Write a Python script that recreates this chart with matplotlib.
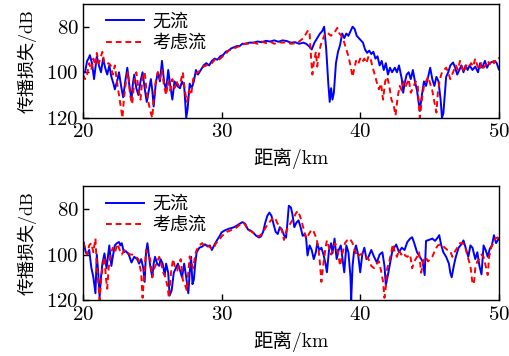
import matplotlib
matplotlib.use("Agg")
import matplotlib.pyplot as plt

plt.rcParams['font.family'] = ['cmr10', 'Noto Sans CJK SC', 'DejaVu Sans']
plt.rcParams['axes.formatter.use_mathtext'] = True
plt.rcParams['font.size'] = 10

# top panel: range (km) / transmission loss (dB)
top_blue_x = [20.0, 20.15, 20.3, 20.4, 20.5, 20.65, 20.8, 21.0, 21.15, 21.3, 21.45, 21.6, 21.75, 21.9, 22.05,
              22.2, 22.3, 22.5, 22.6, 22.75, 22.9, 23.05, 23.2, 23.35, 23.5, 23.6, 23.7, 23.85, 24.0, 24.15,
              24.3, 24.45, 24.6, 24.75, 24.9, 25.0, 25.1, 25.25, 25.4, 25.55, 25.7, 25.85, 26.0, 26.15, 26.3,
              26.45, 26.6, 26.8, 27.0, 27.15, 27.3, 27.45, 27.55, 27.7, 27.85, 28.0, 28.15, 28.3, 28.5, 28.7,
              28.9, 29.1, 29.3, 29.5, 29.7, 29.9, 30.1, 30.3, 30.5, 30.7, 30.9, 31.1, 31.3, 31.5, 31.7,
              32.0, 32.3, 32.6, 32.9, 33.2, 33.5, 33.8, 34.1, 34.4, 34.7, 35.0, 35.3, 35.6, 35.9, 36.1,
              36.3, 36.5, 36.7, 36.9, 37.1, 37.25, 37.4, 37.55, 37.7, 37.8, 37.9, 38.0, 38.1, 38.25, 38.4,
              38.55, 38.7, 38.85, 39.0, 39.15, 39.3, 39.45, 39.6, 39.75, 39.9, 40.05, 40.2, 40.35, 40.5, 40.65,
              40.8, 40.95, 41.1, 41.25, 41.4, 41.55, 41.7, 41.85, 42.0, 42.15, 42.3, 42.5, 42.65, 42.8, 43.0,
              43.1, 43.2, 43.35, 43.5, 43.65, 43.8, 43.95, 44.1, 44.3, 44.45, 44.6, 44.75, 44.9, 45.05, 45.2,
              45.35, 45.5, 45.65, 45.8, 45.9, 46.0, 46.2, 46.35, 46.5, 46.7, 46.85, 47.0, 47.15, 47.3, 47.45,
              47.6, 47.75, 47.9, 48.1, 48.3, 48.5, 48.65, 48.8, 49.0, 49.15, 49.3, 49.5, 49.7, 49.85, 50.0]
top_blue_y = [100, 100, 95, 94, 92.5, 96, 103, 93, 97, 100, 94, 98, 101, 97, 102,
              105, 107.5, 103, 100, 106, 111, 104, 98, 106, 112, 105, 101, 107, 110, 104,
              100, 107, 113, 108, 103, 108, 115, 105, 100, 104, 95, 104, 108, 99, 106,
              112, 104, 106, 107, 104, 106, 120, 116, 105, 107, 104, 99, 101, 99, 97,
              96, 97, 95, 94, 94.5, 93, 92.5, 91, 90.5, 89.5, 89, 88.5, 88.5, 87.5, 87.5,
              87, 87, 86.5, 86.8, 86.2, 86.5, 86, 86.6, 86, 86.3, 87, 86.8, 87.5, 87, 87.5,
              88.5, 90, 87, 85, 83, 82, 80, 90, 105, 113, 107, 112, 109, 96, 91,
              88, 83, 85, 83, 84, 82, 80, 81, 84, 85, 86, 87, 90, 91.5, 90.5,
              92, 91, 94, 93, 97, 95, 99, 96, 101, 98, 100, 98, 100, 97, 103,
              109, 105, 101, 100, 103, 99, 104, 108, 117, 110, 104, 106, 102, 98, 103,
              106, 102, 104, 112, 120, 118, 102, 100, 97, 95.7, 98, 101, 99, 97, 100,
              97, 99, 97, 99, 97.5, 100, 96, 98, 95, 98, 96, 95.5, 95, 96, 98.7]

top_red_x = [20.0, 20.15, 20.3, 20.45, 20.6, 20.75, 20.9, 21.0, 21.15, 21.3, 21.4, 21.55, 21.7, 21.85, 22.0,
             22.15, 22.3, 22.45, 22.6, 22.75, 22.85, 22.95, 23.1, 23.25, 23.4, 23.55, 23.7, 23.85, 24.0, 24.15,
             24.3, 24.45, 24.6, 24.75, 24.9, 25.0, 25.1, 25.25, 25.4, 25.55, 25.7, 25.85, 26.0, 26.15, 26.3,
             26.45, 26.6, 26.75, 26.9, 27.05, 27.2, 27.35, 27.5, 27.65, 27.8, 27.95, 28.1, 28.3, 28.5, 28.7,
             28.9, 29.1, 29.3, 29.5, 29.7, 29.9, 30.1, 30.3, 30.5, 30.7, 30.9, 31.1, 31.3, 31.5, 31.7,
             32.0, 32.3, 32.6, 32.9, 33.2, 33.5, 33.8, 34.1, 34.4, 34.7, 35.0, 35.3, 35.5, 35.7, 35.9,
             36.1, 36.25, 36.35, 36.45, 36.55, 36.65, 36.8, 36.9, 37.0, 37.15, 37.3, 37.5, 37.7, 37.9, 38.05,
             38.2, 38.35, 38.5, 38.65, 38.8, 39.0, 39.15, 39.3, 39.45, 39.55, 39.7, 39.85, 40.0, 40.15, 40.3,
             40.45, 40.6, 40.75, 40.9, 41.05, 41.2, 41.35, 41.5, 41.65, 41.8, 41.95, 42.1, 42.25, 42.4, 42.55,
             42.7, 42.85, 43.0, 43.15, 43.3, 43.5, 43.65, 43.8, 44.0, 44.15, 44.3, 44.45, 44.6, 44.75, 44.9,
             45.05, 45.2, 45.35, 45.5, 45.6, 45.75, 45.9, 46.05, 46.2, 46.35, 46.5, 46.7, 46.9, 47.05, 47.2,
             47.35, 47.5, 47.65, 47.8, 48.0, 48.15, 48.3, 48.45, 48.6, 48.75, 48.9, 49.05, 49.2, 49.35, 49.5,
             49.65, 49.8, 50.0]
top_red_y = [101, 103, 101, 96, 99, 94, 97, 91.5, 96, 93, 91, 96, 96.5, 96, 97,
             101, 97, 104, 110, 116, 120, 112, 104, 100, 110, 114, 104, 100, 107, 112,
             102, 100, 109, 114, 118, 120, 112, 104, 100, 103, 99, 106, 110, 104, 108,
             103, 107, 104, 106, 104, 100, 108, 113, 108, 110, 103, 101, 100, 99, 97.5,
             97, 96.5, 96, 94.5, 95, 94, 93, 92, 90.5, 90, 89.5, 89, 88.5, 88, 87.5,
             87.5, 87, 87.5, 86.5, 87.2, 86.5, 87.5, 86.8, 87, 86.8, 87.5, 87.3, 87, 86, 85,
             83, 81.5, 83, 93, 101, 96, 91, 97.5, 93, 88, 85.6, 82.6, 83, 84, 82.5,
             82, 80.5, 83, 84, 86, 90, 93, 97, 102, 99, 95, 96.5, 94, 95.5, 94,
             96, 93, 94, 98, 101, 104.5, 107.5, 105, 112, 104, 102, 106, 112, 114, 119,
             111, 106, 108, 104, 106, 103, 109, 107, 104, 106, 120, 112, 106, 104, 102,
             105, 108, 113, 117.7, 109, 103, 100, 99, 98, 100, 103, 100, 97, 99, 95,
             98, 100, 97, 98, 96, 97.5, 94, 97, 99, 96, 98, 97, 95, 96.5, 94.5,
             96, 94, 93.7]

# bottom panel
bot_blue_x = [20.0, 20.05, 20.2, 20.3, 20.45, 20.6, 20.75, 20.9, 21.0, 21.1, 21.2, 21.3, 21.4, 21.55, 21.7,
              21.8, 21.9, 22.05, 22.15, 22.3, 22.45, 22.6, 22.7, 22.8, 22.95, 23.1, 23.3, 23.5, 23.7, 23.9,
              24.05, 24.2, 24.35, 24.45, 24.55, 24.65, 24.75, 24.85, 25.0, 25.1, 25.2, 25.35, 25.5, 25.6, 25.75,
              25.9, 26.0, 26.15, 26.25, 26.4, 26.55, 26.7, 26.85, 27.0, 27.15, 27.3, 27.45, 27.6, 27.7, 27.8,
              27.9, 28.0, 28.1, 28.2, 28.4, 28.6, 28.8, 29.0, 29.15, 29.3, 29.5, 29.7, 29.85, 30.0, 30.2,
              30.4, 30.55, 30.7, 30.9, 31.1, 31.3, 31.5, 31.7, 31.9, 32.1, 32.3, 32.5, 32.7, 32.85, 33.0,
              33.15, 33.3, 33.45, 33.6, 33.75, 33.9, 34.05, 34.2, 34.35, 34.5, 34.65, 34.75, 34.85, 35.0, 35.1,
              35.25, 35.4, 35.55, 35.7, 35.85, 36.0, 36.1, 36.2, 36.35, 36.5, 36.65, 36.8, 36.9, 37.05, 37.2,
              37.35, 37.5, 37.6, 37.75, 37.9, 38.0, 38.15, 38.3, 38.45, 38.6, 38.75, 38.85, 39.0, 39.15, 39.3,
              39.35, 39.45, 39.55, 39.7, 39.85, 40.0, 40.15, 40.3, 40.45, 40.6, 40.8, 41.0, 41.2, 41.4, 41.6,
              41.75, 41.85, 42.0, 42.15, 42.3, 42.45, 42.6, 42.8, 43.0, 43.2, 43.4, 43.6, 43.75, 43.9, 44.1,
              44.3, 44.5, 44.65, 44.75, 45.0, 45.2, 45.4, 45.6, 45.7, 45.85, 46.0, 46.2, 46.4, 46.5, 46.6,
              46.75, 46.9, 47.1, 47.3, 47.45, 47.65, 47.8, 47.95, 48.1, 48.3, 48.45, 48.6, 48.75, 48.9, 49.05,
              49.2, 49.35, 49.5, 49.65, 49.8, 50.0]
bot_blue_y = [95, 94.6, 99, 100, 98, 105.6, 110, 117, 100, 108, 118.6, 110, 104, 99.5, 106,
              101, 96, 105, 101, 96, 95, 94.5, 96, 95, 99, 98.5, 100, 103.5, 101, 102,
              104, 102, 106, 112, 99, 95, 100, 105, 110, 104, 101, 104, 105, 102, 104,
              109, 104, 108, 118, 115.7, 108, 106, 104, 107, 110, 104, 110, 117, 108, 101,
              113, 111, 104, 99, 97, 96.5, 95.5, 96.5, 96, 98, 95.5, 93.4, 92, 90.3, 89.5,
              89, 88.6, 88.4, 88, 87.3, 86.5, 85.8, 86.5, 89, 89.5, 90.5, 91.8, 92.5, 92, 90,
              86, 83, 81.6, 83, 86.7, 90, 91, 88, 89, 91.5, 92.6, 86, 78.6, 79.3, 82,
              88, 86, 85, 88, 91.8, 91, 93, 100.4, 96, 98, 102, 99, 95, 98, 97,
              100, 104, 107.8, 98, 95, 99.5, 93, 102, 98, 96, 103, 107.8, 96, 99, 110,
              120, 105, 99, 96, 100, 107.8, 100, 97, 102, 101, 98, 101, 103.5, 100, 99,
              105, 113.5, 109, 104, 99, 97, 95.6, 99, 97, 98, 94.5, 93, 92.4, 95, 99,
              101, 103, 109, 94, 93.5, 93, 94, 92.5, 91.5, 96, 99, 101, 104, 108, 110,
              105, 101, 97, 95.5, 93.8, 98, 101, 96, 97, 102, 99, 105, 108.7, 96, 98,
              101, 97.5, 96, 91.5, 95, 93]

bot_red_x = [20.0, 20.15, 20.3, 20.45, 20.6, 20.75, 20.9, 21.0, 21.1, 21.2, 21.3, 21.4, 21.55, 21.65, 21.75,
             21.85, 22.0, 22.15, 22.3, 22.5, 22.65, 22.8, 23.0, 23.2, 23.4, 23.55, 23.8, 24.0, 24.1, 24.2,
             24.3, 24.4, 24.55, 24.7, 24.85, 25.0, 25.15, 25.3, 25.5, 25.65, 25.8, 25.95, 26.1, 26.2, 26.35,
             26.5, 26.65, 26.8, 26.95, 27.05, 27.2, 27.4, 27.5, 27.6, 27.7, 27.85, 27.95, 28.1, 28.2, 28.4,
             28.6, 28.8, 29.0, 29.2, 29.4, 29.6, 29.8, 30.0, 30.2, 30.4, 30.6, 30.8, 31.0, 31.2, 31.4,
             31.6, 31.8, 32.0, 32.2, 32.5, 32.7, 32.9, 33.1, 33.3, 33.5, 33.7, 33.85, 34.0, 34.2, 34.35,
             34.5, 34.65, 34.8, 35.0, 35.2, 35.35, 35.5, 35.65, 35.8, 36.0, 36.15, 36.3, 36.5, 36.65, 36.85,
             37.0, 37.1, 37.2, 37.35, 37.5, 37.6, 37.75, 37.9, 38.05, 38.2, 38.4, 38.55, 38.7, 38.9, 39.05,
             39.25, 39.45, 39.6, 39.8, 40.0, 40.2, 40.4, 40.6, 40.8, 41.0, 41.2, 41.35, 41.5, 41.65, 41.75,
             41.85, 41.95, 42.1, 42.25, 42.35, 42.5, 42.65, 42.8, 42.95, 43.1, 43.25, 43.4, 43.6, 43.75, 43.9,
             44.1, 44.25, 44.4, 44.55, 44.7, 44.9, 45.05, 45.2, 45.4, 45.6, 45.8, 45.95, 46.1, 46.3, 46.5,
             46.65, 46.8, 47.0, 47.2, 47.4, 47.55, 47.75, 47.95, 48.1, 48.2, 48.3, 48.45, 48.6, 48.75, 48.9,
             49.05, 49.2, 49.3, 49.45, 49.6, 49.75, 49.9, 50.0]
bot_red_y = [94.6, 97, 100, 96, 95, 99, 93, 104.7, 112, 120, 112, 106, 101, 110, 115,
             106, 100, 97, 99, 95.3, 98, 100, 98, 99, 100, 100, 101, 102, 105, 108,
             119, 110, 98, 100, 102, 110, 106, 104, 101, 104, 108, 110, 114, 119, 108,
             102, 106, 107, 104, 102, 111, 114, 116, 108, 100.8, 104, 106, 100, 98, 96,
             95, 96.5, 96, 97, 97.5, 95, 94, 92, 91, 90, 89.5, 89, 88.5, 87.5, 86.5,
             86, 88, 89.5, 90, 91.5, 92, 91, 89, 87, 85.5, 84, 83.7, 86, 88, 89.5,
             93.6, 90, 88, 86, 84, 82, 80.8, 83, 86, 90.7, 93, 91, 89, 90, 93,
             98, 104, 112, 104, 97, 93.8, 97, 100, 97, 95, 99, 105, 100, 95, 93.8,
             93, 95, 98, 101, 100, 99.5, 101, 102, 105, 106, 104, 103, 107, 112, 119,
             114, 106, 103, 99, 95.4, 99, 101, 98, 100, 99, 100.5, 101, 100, 106, 103,
             101, 99, 108, 103, 101, 103, 102, 101, 98, 96, 95.5, 96, 97, 98, 98.5,
             101, 99, 97, 95, 95, 96, 101, 105, 112.6, 113, 106, 103, 102, 100, 101,
             105, 109, 101, 97, 95, 93, 92.5, 93]

fig = plt.figure(figsize=(5.09, 3.56), dpi=100)
ax1 = fig.add_axes([0.163, 0.669, 0.817, 0.320])
ax2 = fig.add_axes([0.163, 0.157, 0.817, 0.320])

for ax, bx, by, rx, ry in [(ax1, top_blue_x, top_blue_y, top_red_x, top_red_y),
                           (ax2, bot_blue_x, bot_blue_y, bot_red_x, bot_red_y)]:
    ax.plot(bx, by, color='#0000ff', lw=1.4, label='无流')
    ax.plot(rx, ry, color='#ff0000', lw=1.4, ls=(0, (3, 2)), label='考虑流')
    ax.set_xlim(20, 50)
    ax.set_ylim(120, 70)
    ax.set_xticks([20, 30, 40, 50])
    ax.set_yticks([80, 100, 120])
    ax.tick_params(direction='in', length=4, width=1, labelsize=15, top=False, right=False)
    ax.tick_params(axis='x', pad=4)
    ax.tick_params(axis='y', pad=3)
    for s in ax.spines.values():
        s.set_linewidth(1.0)
    ax.set_xlabel('距离/km', fontsize=14, labelpad=5)
    ax.set_ylabel('传播损失/dB', fontsize=13, labelpad=7)
    ax.legend(loc='upper left', frameon=False, fontsize=13, handlelength=2.1,
              handletextpad=0.5, borderaxespad=0.0, borderpad=0.0, labelspacing=0.25,
              bbox_to_anchor=(0.055, 0.92))

fig.savefig('out.png', dpi=100)
